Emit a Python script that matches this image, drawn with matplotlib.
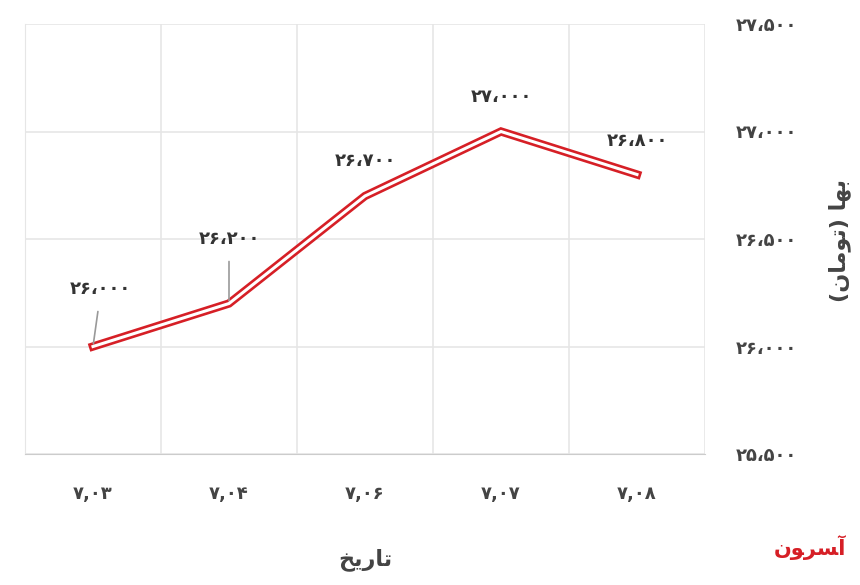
import matplotlib
matplotlib.use("Agg")
import matplotlib.pyplot as plt
from matplotlib.ticker import FixedLocator

plt.rcParams['font.family'] = ['DejaVu Sans']

categories = ["۷,۰۳", "۷,۰۴", "۷,۰۶", "۷,۰۷", "۷,۰۸"]
values = [26000, 26200, 26700, 27000, 26800]
value_labels = ["۲۶،۰۰۰", "۲۶،۲۰۰", "۲۶،۷۰۰", "۲۷،۰۰۰", "۲۶،۸۰۰"]
yticks = [25500, 26000, 26500, 27000, 27500]
ytick_labels = ["۲۵،۵۰۰", "۲۶،۰۰۰", "۲۶،۵۰۰", "۲۷،۰۰۰", "۲۷،۵۰۰"]
label_off = [(7, 57), (0, 64), (0, 35), (0, 34), (0, 33)]
leaders = [True, True, False, False, False]

xlabel = "\uFEA6\uFEF3\uFEAD\uFE8E\uFE97"
ylabel = "(\uFEE5\uFE8E\uFEE3\uFEEE\uFE97) \uFE8E\uFEEC\uFE91"

fig = plt.figure(figsize=(8.6, 5.85), dpi=100)
ax = fig.add_axes([25/860, 1-454/585, 680/860, 430/585])
x = list(range(len(categories)))
ax.plot(x, values, color="#d61f26", lw=6, solid_joinstyle="miter", zorder=3)
ax.plot(x, values, color="white", lw=2.2, solid_joinstyle="miter", zorder=4)

ax.set_xlim(-0.5, 4.5)
ax.set_ylim(25500, 27500)
ax.yaxis.tick_right()
ax.set_yticks(yticks)
ax.set_yticklabels(ytick_labels, fontsize=13, fontweight='bold', color="#444444")
ax.set_xticks(x)
ax.set_xticklabels(categories, fontsize=13, fontweight='bold', color="#444444")
ax.xaxis.set_minor_locator(FixedLocator([i + 0.5 for i in range(-1, 5)]))
ax.tick_params(axis='both', which='both', length=0)
ax.tick_params(axis='x', pad=22)
ax.tick_params(axis='y', pad=22)
ax.grid(True, axis='y', color="#e6e6e6", lw=1.2)
ax.grid(True, axis='x', which='minor', color="#e6e6e6", lw=1.2)
for s in ax.spines.values():
    s.set_visible(False)
ax.spines['left'].set_visible(True)
ax.spines['left'].set_color("#e6e6e6")
ax.spines['bottom'].set_visible(True)
ax.spines['bottom'].set_color("#cccccc")

for xi, v, lab, (dx, dy), ld in zip(x, values, value_labels, label_off, leaders):
    ax.annotate(lab, (xi, v), xytext=(dx*0.72, dy*0.72), textcoords='offset points',
                ha='center', va='center', fontsize=13, fontweight='bold', color="#333333", zorder=5)
    if ld:
        ax.annotate("", (xi, v), xytext=(dx*0.72*0.7, (dy-22)*0.72), textcoords='offset points',
                    arrowprops=dict(arrowstyle='-', color='#999999', lw=1.2, shrinkA=0, shrinkB=2))

fig.text(365/860, 1-560/585, xlabel, fontsize=16, fontweight='bold', ha='center', va='center', color="#444444")
fig.text(840/860, 1-240/585, ylabel, fontsize=16, fontweight='bold', ha='center', va='center', rotation=90, color="#444444")
fig.text(810/860, 1-548/585, "\uFEE5\uFEEE\uFEAE\uFEB4\uFE81", fontsize=15, fontweight='bold',
         ha='center', va='center', color="#d61f26")

fig.savefig("out.png", dpi=100)
